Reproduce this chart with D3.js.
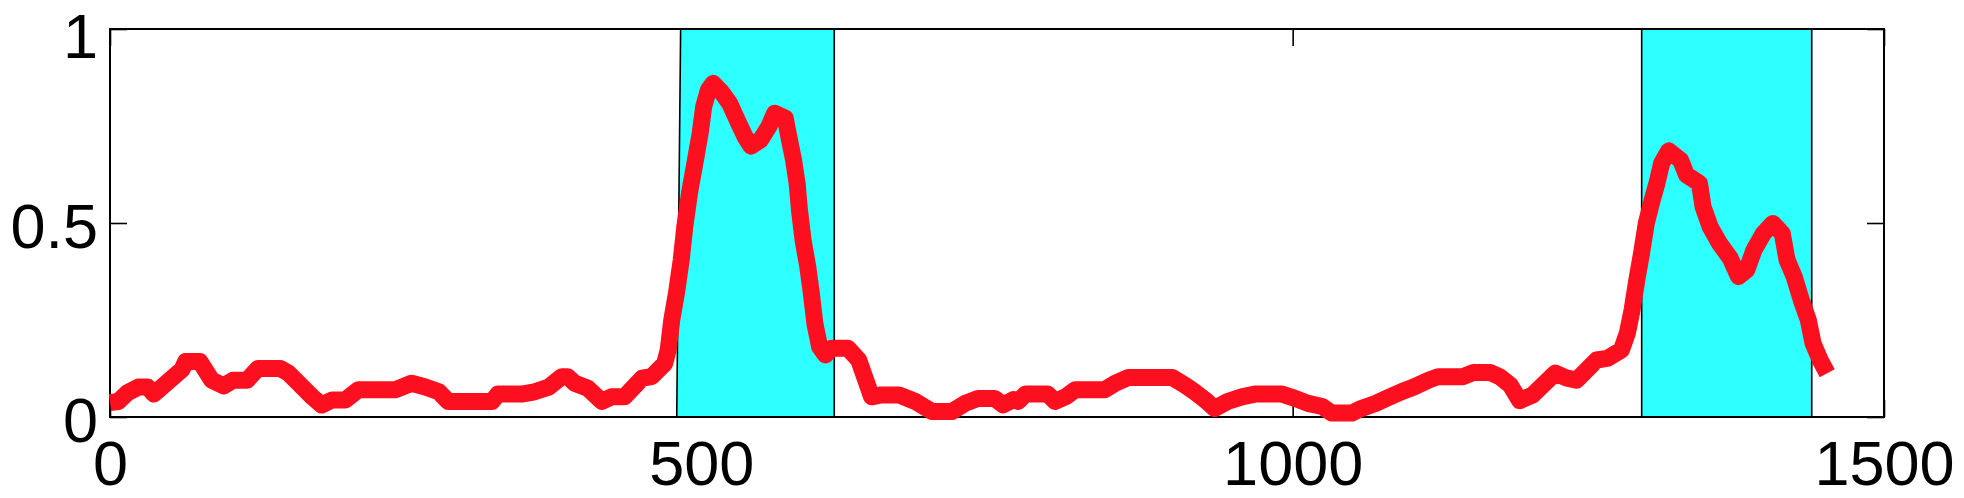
<!DOCTYPE html>
<html>
<head>
<meta charset="utf-8">
<script src="https://cdn.jsdelivr.net/npm/d3@7"></script>
<style>
  html, body { margin: 0; padding: 0; background: #ffffff; }
  svg { display: block; }
  .tick text { font-family: "Liberation Sans", Arial, Helvetica, sans-serif; }
</style>
</head>
<body>
<svg id="chart" width="1964" height="498"></svg>
<script>
// ---- data ----
const xValues = [0,7,15,24,32,37,61,64,76,86,96,104,116,125,144,151,165,171,179,188,199,210,241,255,266,278,286,323,328,348,359,371,382,387,393,404,416,424,435,450,458,469,472,475,479,483,486,490,495,499,502,506,510,517,524,531,537,542,550,557,562,571,574,578,581,583,586,590,593,596,600,605,610,624,633,638,644,652,667,681,695,712,723,734,748,755,764,768,774,793,799,808,816,841,850,861,898,909,917,926,934,945,957,968,991,1002,1013,1025,1033,1050,1058,1070,1081,1092,1103,1115,1123,1144,1153,1167,1175,1184,1192,1203,1222,1232,1240,1257,1266,1278,1283,1287,1291,1295,1299,1304,1308,1312,1318,1328,1333,1344,1347,1353,1361,1370,1377,1384,1390,1398,1406,1414,1418,1424,1430,1436,1440,1446,1452];
const yValues = [0.037,0.04,0.063,0.077,0.077,0.059,0.123,0.143,0.143,0.095,0.08,0.095,0.095,0.125,0.125,0.113,0.07,0.052,0.031,0.044,0.044,0.07,0.07,0.087,0.078,0.065,0.04,0.04,0.059,0.059,0.065,0.077,0.104,0.104,0.087,0.074,0.04,0.052,0.052,0.1,0.104,0.138,0.173,0.25,0.32,0.405,0.49,0.577,0.662,0.731,0.80,0.843,0.86,0.838,0.808,0.761,0.722,0.698,0.714,0.748,0.783,0.77,0.722,0.662,0.602,0.533,0.456,0.387,0.319,0.241,0.181,0.16,0.177,0.177,0.147,0.104,0.052,0.057,0.057,0.04,0.014,0.014,0.035,0.048,0.048,0.031,0.045,0.04,0.059,0.059,0.04,0.052,0.07,0.07,0.087,0.102,0.102,0.082,0.065,0.044,0.022,0.04,0.052,0.059,0.059,0.048,0.035,0.027,0.01,0.01,0.022,0.035,0.05,0.065,0.078,0.095,0.104,0.104,0.115,0.115,0.104,0.082,0.042,0.057,0.113,0.1,0.095,0.147,0.151,0.173,0.216,0.276,0.353,0.422,0.499,0.559,0.602,0.654,0.686,0.662,0.624,0.602,0.542,0.49,0.447,0.409,0.362,0.379,0.43,0.473,0.499,0.473,0.405,0.362,0.302,0.25,0.19,0.147,0.113];
// shaded bands: x at bottom-left, x at top-left, x right
const bandStarts = [479.2, 1295.1];
const bandStartsTop = [482.5, 1295.1];
const bandEnds = [612.4, 1438.9];
const xTicks = [0, 500, 1000, 1500];
const yTicks = [0, 0.5, 1];
const yTickLabels = ["0", "0.5", "1"];

// ---- layout ----
const L = 110, R = 1884, T = 29, B = 417;
const svg = d3.select("#chart");
const x = d3.scaleLinear().domain([0, 1500]).range([L, R]);
const y = d3.scaleLinear().domain([0, 1]).range([B, T]);
const TICK = 17, FS = 63;

// axes (ticks behind bands)
const gB = svg.append("g").attr("transform", `translate(0,${B})`)
  .call(d3.axisBottom(x).tickValues(xTicks).tickFormat(d3.format("d"))
    .tickSizeInner(-TICK).tickSizeOuter(0).tickPadding(23));
const gT = svg.append("g").attr("transform", `translate(0,${T})`)
  .call(d3.axisTop(x).tickValues(xTicks).tickFormat("")
    .tickSizeInner(-TICK).tickSizeOuter(0));
const gL = svg.append("g").attr("transform", `translate(${L},0)`)
  .call(d3.axisLeft(y).tickValues(yTicks).tickFormat((d, i) => yTickLabels[i])
    .tickSizeInner(-TICK).tickSizeOuter(0).tickPadding(12));
const gR = svg.append("g").attr("transform", `translate(${R},0)`)
  .call(d3.axisRight(y).tickValues(yTicks).tickFormat("")
    .tickSizeInner(-TICK).tickSizeOuter(0));
[gB, gT, gL, gR].forEach(g => {
  g.select(".domain").remove();
  g.selectAll(".tick line").attr("stroke", "#000").attr("stroke-width", 1.6);
  g.selectAll(".tick text").attr("fill", "#000").attr("font-size", FS);
});
gL.selectAll(".tick text").attr("dy", d => d === 1 ? "0.46em" : "0.39em");

// bands
const bands = bandStarts.map((s, i) => ({ s, st: bandStartsTop[i], e: bandEnds[i] }));
svg.append("g").selectAll("path").data(bands).join("path")
  .attr("d", d => {
    const p = d3.path();
    p.moveTo(x(d.s), y(0));
    p.lineTo(x(d.st), y(1));
    p.lineTo(x(d.e), y(1));
    p.lineTo(x(d.e), y(0));
    p.closePath();
    return p.toString();
  })
  .attr("fill", "#2EFFFF")
  .attr("stroke", "#000")
  .attr("stroke-width", 1.6);

// box
svg.append("rect")
  .attr("x", L).attr("y", T).attr("width", R - L).attr("height", B - T)
  .attr("fill", "none").attr("stroke", "#000").attr("stroke-width", 2);

// line
const pts = xValues.map((v, i) => [v, yValues[i]]);
svg.append("path")
  .datum(pts)
  .attr("d", d3.line().x(d => x(d[0])).y(d => y(d[1])))
  .attr("fill", "none")
  .attr("stroke", "#FC1020")
  .attr("stroke-width", 17)
  .attr("stroke-linejoin", "round")
  .attr("stroke-linecap", "butt");
</script>
</body>
</html>
